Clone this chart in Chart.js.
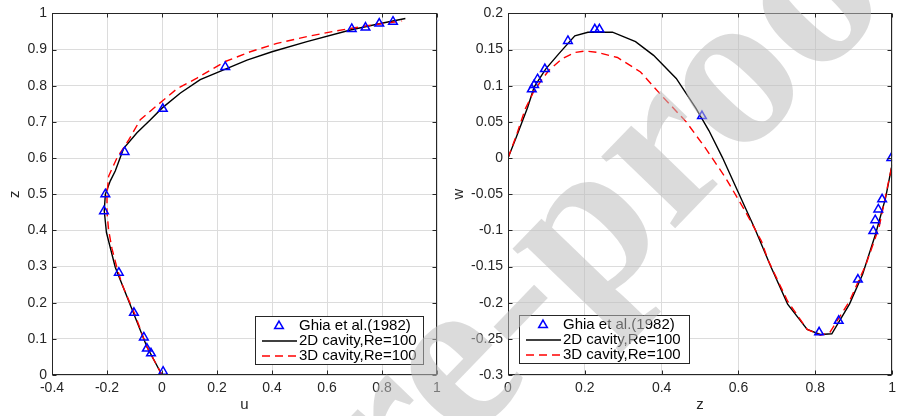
<!DOCTYPE html>
<html>
<head>
<meta charset="utf-8">
<script src="https://cdn.jsdelivr.net/npm/chart.js@4"></script>
<style>
  body { margin: 0; background: #fff; }
  #wrap { position: relative; width: 901px; height: 416px; overflow: hidden; }
  canvas { position: absolute; top: 0; }
  #left { left: 0; }
  #right { left: 450px; }
  #wm { left: 0; pointer-events: none; }
</style>
</head>
<body>
<div id="wrap">
  <canvas id="left" width="450" height="416"></canvas>
  <canvas id="right" width="451" height="416"></canvas>
  <canvas id="wm" width="901" height="416"></canvas>
</div>
<script>
// u-velocity along the vertical centre line
const uGhia = [0.84, 0.79, 0.74, 0.69, 0.23, 0.003, -0.136, -0.206, -0.211, -0.157, -0.102, -0.066, -0.055, -0.04, 0.004]
const zGhia = [0.977, 0.972, 0.961, 0.957, 0.852, 0.736, 0.617, 0.5, 0.453, 0.283, 0.172, 0.104, 0.073, 0.06, 0.009]

const u2d = [0, -0.055, -0.103, -0.17, -0.202, -0.21, -0.206, -0.188, -0.17, -0.14, -0.091, -0.043, 0, 0.067, 0.139, 0.224, 0.309, 0.4, 0.527, 0.685, 0.794, 0.885]
const z2d = [0, 0.078, 0.17, 0.298, 0.394, 0.454, 0.5, 0.537, 0.564, 0.626, 0.67, 0.705, 0.738, 0.78, 0.817, 0.844, 0.871, 0.894, 0.922, 0.954, 0.972, 0.986]

const u3d = [0, -0.055, -0.1, -0.145, -0.165, -0.182, -0.194, -0.2, -0.2, -0.194, -0.164, -0.121, -0.079, 0, 0.055, 0.127, 0.23, 0.321, 0.418, 0.527, 0.636, 0.745, 0.873]
const z3d = [0, 0.078, 0.17, 0.25, 0.3, 0.35, 0.4, 0.45, 0.5, 0.55, 0.6, 0.65, 0.706, 0.757, 0.792, 0.821, 0.867, 0.894, 0.917, 0.936, 0.952, 0.966, 0.979]

// w-velocity along the horizontal centre line
const zwGhia = [0.062, 0.068, 0.077, 0.096, 0.156, 0.226, 0.238, 0.505, 0.81, 0.861, 0.911, 0.951, 0.956, 0.964, 0.974, 0.998]
const wGhia = [0.095, 0.101, 0.109, 0.123, 0.162, 0.178, 0.178, 0.058, -0.241, -0.225, -0.168, -0.101, -0.086, -0.071, -0.057, 0.0]

const zw2d = [0, 0.021, 0.051, 0.068, 0.098, 0.132, 0.174, 0.208, 0.234, 0.272, 0.332, 0.379, 0.438, 0.489, 0.523, 0.558, 0.6, 0.643, 0.685, 0.728, 0.779, 0.813, 0.843, 0.889, 0.923, 0.957, 0.983, 1]
const w2d = [0, 0.028, 0.07, 0.098, 0.123, 0.144, 0.169, 0.174, 0.174, 0.174, 0.161, 0.142, 0.11, 0.069, 0.038, 0.001, -0.048, -0.098, -0.151, -0.202, -0.237, -0.244, -0.243, -0.202, -0.161, -0.105, -0.055, -0.009]

const zw3d = [0, 0.021, 0.045, 0.068, 0.089, 0.106, 0.14, 0.174, 0.2, 0.234, 0.285, 0.345, 0.404, 0.464, 0.515, 0.566, 0.617, 0.66, 0.677, 0.728, 0.779, 0.813, 0.838, 0.889, 0.932, 0.966, 1]
const w3d = [0, 0.03, 0.068, 0.093, 0.109, 0.121, 0.137, 0.146, 0.148, 0.146, 0.139, 0.119, 0.084, 0.05, 0.013, -0.027, -0.073, -0.115, -0.141, -0.198, -0.237, -0.245, -0.241, -0.198, -0.147, -0.096, -0.009]

const legendLabels = ['Ghia et al.(1982)', '2D cavity,Re=100', '3D cavity,Re=100']

const pts = (xs, ys) => xs.map((x, i) => ({ x: x, y: ys[i] }))
const fmt = v => String(Math.round(v * 100) / 100)
const AXIS = '#262626'

Chart.defaults.font.family = '"Liberation Sans", Arial, Helvetica, sans-serif'
Chart.defaults.color = AXIS

// matlab-like box, inward ticks and an in-axes legend
const matlabBox = {
  id: 'matlabBox',
  afterDatasetsDraw(chart, args, opts) {
    const ctx = chart.ctx
    const a = chart.chartArea
    const L = Math.round(a.left) + 0.5, R = Math.round(a.right) - 0.5
    const T = Math.round(a.top) + 0.5, B = Math.round(a.bottom) - 0.5
    ctx.save()
    ctx.strokeStyle = AXIS
    ctx.lineWidth = 1
    ctx.strokeRect(L, T, R - L, B - T)
    ctx.beginPath()
    chart.scales.x.ticks.forEach(t => {
      const px = Math.round(chart.scales.x.getPixelForValue(t.value)) + 0.5
      ctx.moveTo(px, B); ctx.lineTo(px, B - 4)
      ctx.moveTo(px, T); ctx.lineTo(px, T + 4)
    })
    chart.scales.y.ticks.forEach(t => {
      const py = Math.round(chart.scales.y.getPixelForValue(t.value)) + 0.5
      ctx.moveTo(L, py); ctx.lineTo(L + 4, py)
      ctx.moveTo(R, py); ctx.lineTo(R - 4, py)
    })
    ctx.stroke()

    // legend
    const lg = opts.legend
    ctx.fillStyle = '#fff'
    ctx.fillRect(lg.x, lg.y, lg.w, lg.h)
    ctx.strokeStyle = AXIS
    ctx.strokeRect(lg.x + 0.5, lg.y + 0.5, lg.w, lg.h)
    ctx.font = '15px "Liberation Sans", Arial, sans-serif'
    ctx.textBaseline = 'middle'
    ctx.fillStyle = '#000'
    const ds = chart.data.datasets
    legendLabels.forEach((label, i) => {
      const cy = lg.y + 10 + i * 15
      const d = ds[i]
      if (i === 0) {
        const cx = lg.x + 24, r = 5
        ctx.beginPath()
        ctx.moveTo(cx, cy - r)
        ctx.lineTo(cx + r * 0.866, cy + r * 0.5)
        ctx.lineTo(cx - r * 0.866, cy + r * 0.5)
        ctx.closePath()
        ctx.strokeStyle = d.borderColor
        ctx.lineWidth = 1.5
        ctx.stroke()
      } else {
        ctx.beginPath()
        ctx.setLineDash(d.borderDash || [])
        ctx.moveTo(lg.x + 7, cy)
        ctx.lineTo(lg.x + 42, cy)
        ctx.strokeStyle = d.borderColor
        ctx.lineWidth = d.borderWidth
        ctx.stroke()
        ctx.setLineDash([])
      }
      ctx.fillText(label, lg.x + 44, cy)
    })
    ctx.restore()
  }
}

function makeChart(el, cfg) {
  return new Chart(el, {
    type: 'scatter',
    data: {
      datasets: [
        {
          data: cfg.ghia,
          pointStyle: 'triangle',
          pointRadius: 5,
          borderColor: '#0000ff',
          backgroundColor: 'rgba(0,0,0,0)',
          borderWidth: 1.5,
          order: 0
        },
        {
          data: cfg.line2d,
          showLine: true,
          pointRadius: 0,
          borderColor: '#000000',
          borderWidth: 1.4,
          order: 2
        },
        {
          data: cfg.line3d,
          showLine: true,
          pointRadius: 0,
          borderColor: '#ff0000',
          borderWidth: 1.4,
          borderDash: [8, 5],
          order: 1
        }
      ]
    },
    options: {
      responsive: false,
      animation: false,
      devicePixelRatio: 1,
      layout: { padding: cfg.padding },
      plugins: {
        legend: { display: false },
        tooltip: { enabled: false },
        matlabBox: { legend: cfg.legend }
      },
      scales: {
        x: {
          type: 'linear',
          min: cfg.xMin, max: cfg.xMax,
          afterBuildTicks: s => { s.ticks = cfg.xTicks.map(v => ({ value: v })) },
          ticks: { callback: fmt, padding: 5, font: { size: 14 }, maxRotation: 0, autoSkip: false },
          grid: { color: '#dcdcdc', drawTicks: false },
          border: { display: false },
          title: { display: true, text: cfg.xTitle, font: { size: 15 }, padding: { top: 0, bottom: 2 } },
          afterFit: s => { s.height = 41 }
        },
        y: {
          type: 'linear',
          min: cfg.yMin, max: cfg.yMax,
          afterBuildTicks: s => { s.ticks = cfg.yTicks.map(v => ({ value: v })) },
          ticks: { callback: fmt, padding: 5, font: { size: 14 }, autoSkip: false },
          grid: { color: '#dcdcdc', drawTicks: false },
          border: { display: false },
          title: { display: true, text: cfg.yTitle, font: { size: 15 }, padding: { top: cfg.yTitlePad, bottom: 0 } },
          afterFit: s => { s.width = cfg.yWidth }
        }
      }
    },
    plugins: [matlabBox]
  })
}

const uTicks = [-0.4, -0.2, 0, 0.2, 0.4, 0.6, 0.8, 1]
const zTicks = [0, 0.1, 0.2, 0.3, 0.4, 0.5, 0.6, 0.7, 0.8, 0.9, 1]
const zTicksW = [0, 0.2, 0.4, 0.6, 0.8, 1]
const wTicks = [-0.3, -0.25, -0.2, -0.15, -0.1, -0.05, 0, 0.05, 0.1, 0.15, 0.2]

makeChart(document.getElementById('left'), {
  ghia: pts(uGhia, zGhia),
  line2d: pts(u2d, z2d),
  line3d: pts(u3d, z3d),
  xMin: -0.4, xMax: 1, yMin: 0, yMax: 1,
  xTicks: uTicks, yTicks: zTicks,
  xTitle: 'u', yTitle: 'z',
  yTitlePad: 6, yWidth: 52,
  padding: { top: 12, right: 13, bottom: 0, left: 0 },
  legend: { x: 255, y: 316, w: 168, h: 48 }
})

makeChart(document.getElementById('right'), {
  ghia: pts(zwGhia, wGhia),
  line2d: pts(zw2d, w2d),
  line3d: pts(zw3d, w3d),
  xMin: 0, xMax: 1, yMin: -0.3, yMax: 0.2,
  xTicks: zTicksW, yTicks: wTicks,
  xTitle: 'z', yTitle: 'w',
  yTitlePad: 0, yWidth: 58,
  padding: { top: 12, right: 1, bottom: 0, left: 0 },
  legend: { x: 69, y: 315, w: 170, h: 48 }
})

// "Journal Pre-proof" watermark over the right panel
const wm = document.getElementById('wm').getContext('2d')
const wmSize = 224
wm.font = 'bold ' + wmSize + 'px "Liberation Serif", "DejaVu Serif", serif'
const before = wm.measureText('Journal Pre-pr').width
const oW = wm.measureText('o').width
wm.translate(742, 85)
wm.rotate(-46 * Math.PI / 180)
wm.fillStyle = 'rgba(190,190,190,0.55)'
wm.fillText('Journal Pre-proof', -before - oW / 2, wmSize * 0.46 / 2)
</script>
</body>
</html>
